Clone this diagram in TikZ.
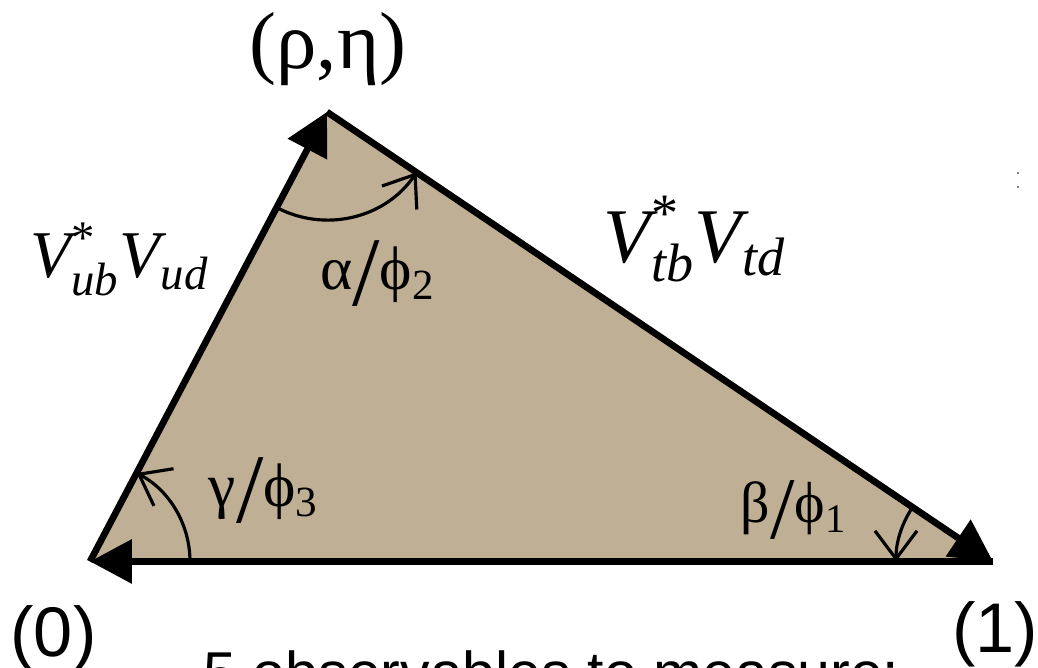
\documentclass[tikz,border=0pt]{standalone}
\usepackage{fontspec}
\usepackage{amsmath}
\setmainfont{Liberation Serif}
\newfontfamily\arialfont{Liberation Sans}
\usetikzlibrary{arrows.meta}
\definecolor{ctan}{HTML}{BFAF94}
\definecolor{cdark}{HTML}{000000}
\newcommand{\anglab}[3]{#1\raisebox{-1.6mm}{\fontsize{#3}{#3}\selectfont /}ϕ\textsubscript{#2}}
\newcommand{\ckm}[2]{$\text{\itshape V}^{\text{*}}_{\text{\itshape #1}}\text{\itshape V}_{\text{\itshape #2}}$}

\begin{document}
\begin{tikzpicture}[
    >={Triangle[length=4.2mm, width=4.3mm]},
    side/.style={->, line width=1.9pt, draw=cdark},
    ang/.style={-{Straight Barb[length=2.8mm, width=4.2mm]}, line width=0.9pt, draw=cdark},
    glab/.style={font=\fontsize{17.5}{20}\selectfont, inner sep=0pt, anchor=base},
    vlab/.style={inner sep=0pt, anchor=base},
    plab/.style={font=\arialfont\fontsize{20}{24}\selectfont, inner sep=0pt, anchor=base},
]
\useasboundingbox (0,0) rectangle (10.38,6.68);

% --- Vertices ---------------------------------------------------------
\coordinate (zero) at (0.90, 1.065);
\coordinate (apex) at (3.27, 5.56);
\coordinate (one)  at (9.93, 1.065);

% --- Triangle ---------------------------------------------------------
\fill[ctan] (zero) -- (apex) -- (one) -- cycle;
\draw[side] (zero) -- (apex);
\draw[side] (apex) -- (one);
\draw[side] (one)  -- (zero);

% --- Angle arcs -------------------------------------------------------
\draw[ang] ([shift={(0:1.0)}]zero) arc[start angle=0, end angle=62.2, radius=1.0];
\draw[ang] ([shift={(242.2:1.08)}]apex) arc[start angle=242.2, end angle=326, radius=1.08];
\draw[ang] ([shift={(146:0.97)}]one) arc[start angle=146, end angle=180, radius=0.97];

% --- Labels -----------------------------------------------------------
\node[inner sep=0pt, font=\fontsize{23}{27}\selectfont] (rhoeta) at (3.28, 6.19) {(ρ,η)};
\node[vlab, font=\fontsize{19}{23}\selectfont] (ub) at (1.20, 3.90) {\ckm{ub}{ud}};
\node[vlab, font=\fontsize{22}{26}\selectfont] (tb) at (6.95, 4.05) {\ckm{tb}{td}};
\node[glab] (alpha) at (3.78, 3.78) {\anglab{α}{2}{28}};
\node[glab] (gamma) at (2.64, 1.61) {\anglab{γ}{3}{28}};
\node[glab, font=\fontsize{16.5}{20}\selectfont] (beta) at (7.94, 1.45) {\anglab{β}{1}{25}};
\node[plab] (lzero) at (0.535, 0.11) {(0)};
\node[plab] (lone)  at (9.95, 0.15) {(1)};
\node[font=\arialfont\fontsize{16.8}{20}\selectfont, inner sep=0pt, anchor=base west]
    (obs) at (2.03, -0.26) {5 observables to measure:};

% stray marks at the right edge
\fill (10.18, 4.95) circle (0.008);
\fill (10.18, 4.81) circle (0.008);
\end{tikzpicture}
\end{document}
